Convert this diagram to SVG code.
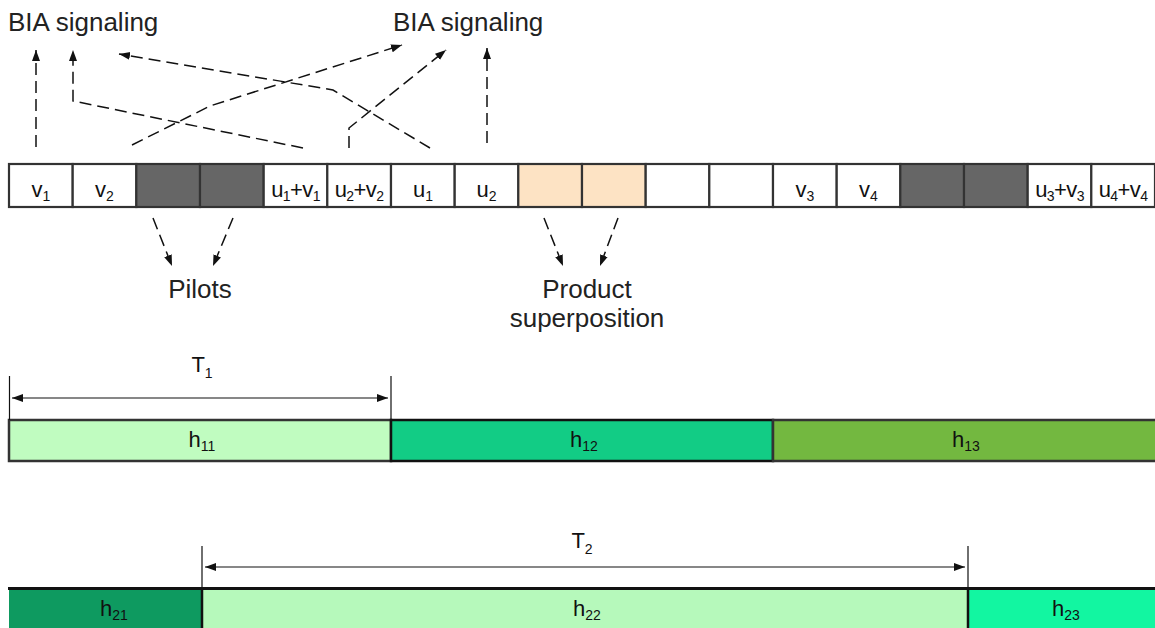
<svg xmlns="http://www.w3.org/2000/svg" width="1155" height="628" viewBox="0 0 1155 628">
<defs>
<style>
.lbl{font-family:"Liberation Sans",Arial,sans-serif;fill:#222;}
.big{font-size:26px;}
.cell{stroke:#333;stroke-width:2.2;}
.ct{font-family:"Liberation Sans",Arial,sans-serif;font-size:22px;fill:#111;text-anchor:middle;}
.sub{font-size:14px;}
.dash{fill:none;stroke:#111;stroke-width:1.5;stroke-dasharray:12 6;}
.dim{fill:none;stroke:#111;stroke-width:1.2;}
</style>
<marker id="ah" markerUnits="userSpaceOnUse" markerWidth="12" markerHeight="10" viewBox="0 0 12 10" refX="11" refY="5" orient="auto">
<path d="M0,1 L11,5 L0,9 Z" fill="#111" stroke="none"/>
</marker>
<marker id="ahs" markerUnits="userSpaceOnUse" markerWidth="12" markerHeight="10" viewBox="0 0 12 10" refX="11" refY="5" orient="auto-start-reverse">
<path d="M0,1 L11,5 L0,9 Z" fill="#111" stroke="none"/>
</marker>
</defs>
<rect width="1155" height="628" fill="#fff"/>

<g id="labels-top">
<text class="lbl big" x="8" y="31">BIA signaling</text>
<text class="lbl big" x="393" y="31">BIA signaling</text>
<text class="lbl big" x="200" y="298" text-anchor="middle">Pilots</text>
<text class="lbl big" x="587" y="298" text-anchor="middle">Product</text>
<text class="lbl big" x="587" y="327" text-anchor="middle">superposition</text>
</g>

<g id="frame-row">
<rect class="cell" x="9" y="164" width="63.7" height="43" fill="#fff"/>
<rect class="cell" x="72.7" y="164" width="63.7" height="43" fill="#fff"/>
<rect class="cell" x="136.3" y="164" width="63.7" height="43" fill="#666"/>
<rect class="cell" x="200" y="164" width="63.7" height="43" fill="#666"/>
<rect class="cell" x="263.7" y="164" width="63.7" height="43" fill="#fff"/>
<rect class="cell" x="327.3" y="164" width="63.7" height="43" fill="#fff"/>
<rect class="cell" x="391" y="164" width="63.7" height="43" fill="#fff"/>
<rect class="cell" x="454.7" y="164" width="63.7" height="43" fill="#fff"/>
<rect class="cell" x="518.3" y="164" width="63.7" height="43" fill="#fde3c4"/>
<rect class="cell" x="582" y="164" width="63.7" height="43" fill="#fde3c4"/>
<rect class="cell" x="645.7" y="164" width="63.7" height="43" fill="#fff"/>
<rect class="cell" x="709.3" y="164" width="63.7" height="43" fill="#fff"/>
<rect class="cell" x="773" y="164" width="63.7" height="43" fill="#fff"/>
<rect class="cell" x="836.7" y="164" width="63.7" height="43" fill="#fff"/>
<rect class="cell" x="900.3" y="164" width="63.7" height="43" fill="#666"/>
<rect class="cell" x="964" y="164" width="63.7" height="43" fill="#666"/>
<rect class="cell" x="1027.7" y="164" width="63.7" height="43" fill="#fff"/>
<rect class="cell" x="1091.3" y="164" width="63.7" height="43" fill="#fff"/>
<text class="ct" x="41" y="197">v<tspan class="sub" dy="4">1</tspan></text>
<text class="ct" x="104.5" y="197">v<tspan class="sub" dy="4">2</tspan></text>
<text class="ct" x="295.5" y="197" letter-spacing="-0.6">u<tspan class="sub" dy="4">1</tspan><tspan dy="-4">+v</tspan><tspan class="sub" dy="4">1</tspan></text>
<text class="ct" x="359" y="197" letter-spacing="-0.6">u<tspan class="sub" dy="4">2</tspan><tspan dy="-4">+v</tspan><tspan class="sub" dy="4">2</tspan></text>
<text class="ct" x="423" y="197">u<tspan class="sub" dy="4">1</tspan></text>
<text class="ct" x="486.5" y="197">u<tspan class="sub" dy="4">2</tspan></text>
<text class="ct" x="805" y="197">v<tspan class="sub" dy="4">3</tspan></text>
<text class="ct" x="868.5" y="197">v<tspan class="sub" dy="4">4</tspan></text>
<text class="ct" x="1059.5" y="197" letter-spacing="-0.6">u<tspan class="sub" dy="4">3</tspan><tspan dy="-4">+v</tspan><tspan class="sub" dy="4">3</tspan></text>
<text class="ct" x="1123" y="197" letter-spacing="-0.6">u<tspan class="sub" dy="4">4</tspan><tspan dy="-4">+v</tspan><tspan class="sub" dy="4">4</tspan></text>
</g>

<g id="connectors">
<path class="dash" d="M36,147 V50" marker-end="url(#ah)"/>
<path class="dash" d="M303,148 L73,101 V50" marker-end="url(#ah)"/>
<path class="dash" d="M430,148 L333,90 L119,54" marker-end="url(#ah)"/>
<path class="dash" d="M132,145 L210,106 L402,45" marker-end="url(#ah)"/>
<path class="dash" d="M349,148 V128 L446,50" marker-end="url(#ah)"/>
<path class="dash" d="M487,143 V48" marker-end="url(#ah)"/>
<path class="dash" d="M153,218 L172,266" marker-end="url(#ah)"/>
<path class="dash" d="M233,218 L213,266" marker-end="url(#ah)"/>
<path class="dash" d="M544,218 L563,266" marker-end="url(#ah)"/>
<path class="dash" d="M618,218 L600,266" marker-end="url(#ah)"/>
</g>

<g id="channel-1">
<rect x="9" y="420" width="382" height="41" fill="#c0fcc0" stroke="#333" stroke-width="2.5"/>
<rect x="391" y="420" width="382" height="41" fill="#12cc85" stroke="#111" stroke-width="2.5"/>
<rect x="773" y="420" width="384" height="41" fill="#73b840" stroke="#333" stroke-width="2.5"/>
<text class="ct" x="202" y="447">h<tspan class="sub" dy="4">11</tspan></text>
<text class="ct" x="584" y="447">h<tspan class="sub" dy="4">12</tspan></text>
<text class="ct" x="966" y="447">h<tspan class="sub" dy="4">13</tspan></text>
<path class="dim" d="M9.5,376 V420 M391,376 V420"/>
<path class="dim" d="M12,398 H388" marker-start="url(#ahs)" marker-end="url(#ah)"/>
<text class="ct" x="202" y="372">T<tspan class="sub" dy="6">1</tspan></text>
</g>

<g id="channel-2">
<rect x="9" y="588" width="193" height="45" fill="#0e9a60"/>
<rect x="202" y="588" width="766" height="45" fill="#b6f9bb"/>
<rect x="968" y="588" width="190" height="45" fill="#12f6a1"/>
<path d="M8,588.5 H1155" stroke="#111" stroke-width="3"/>
<path d="M202,588 V628 M968,588 V628" stroke="#111" stroke-width="2.5"/>
<text class="ct" x="114" y="616">h<tspan class="sub" dy="4">21</tspan></text>
<text class="ct" x="587" y="616">h<tspan class="sub" dy="4">22</tspan></text>
<text class="ct" x="1066" y="616">h<tspan class="sub" dy="4">23</tspan></text>
<path class="dim" d="M202,546 V588 M968,546 V588"/>
<path class="dim" d="M205,567 H965" marker-start="url(#ahs)" marker-end="url(#ah)"/>
<text class="ct" x="582" y="548">T<tspan class="sub" dy="6">2</tspan></text>
</g>
</svg>
